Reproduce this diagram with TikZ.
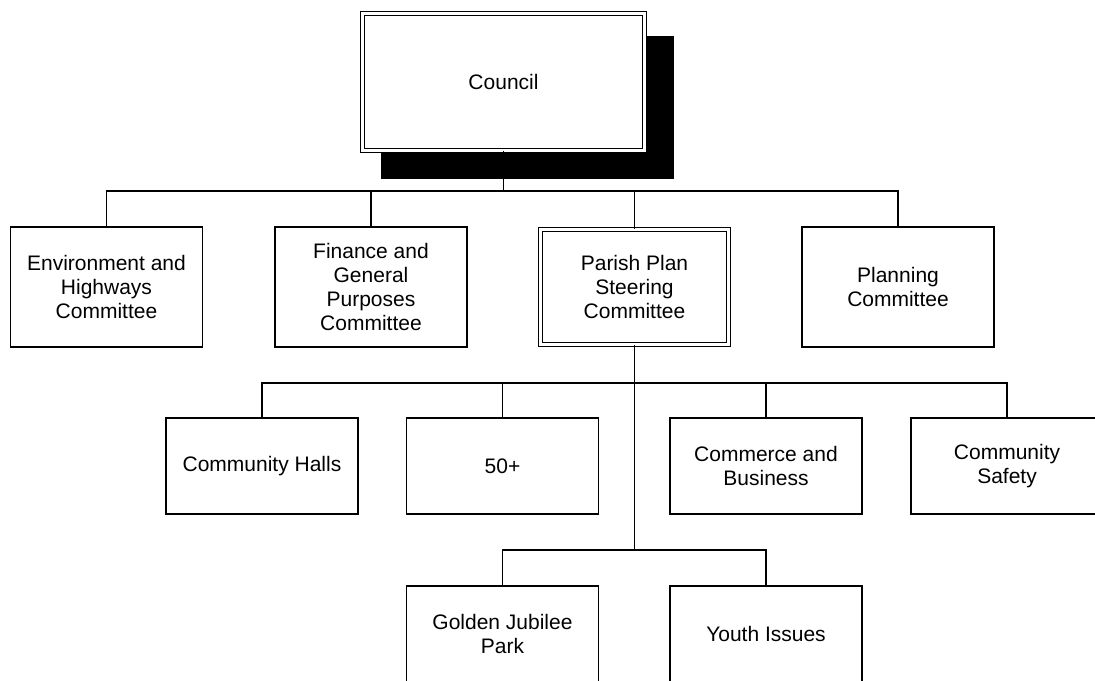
\documentclass[tikz,border=0pt]{standalone}
\usepackage{fontspec}
\setmainfont{Liberation Sans}
\usetikzlibrary{shadows,calc}

\begin{document}
\begin{tikzpicture}[x=0.5pt, y=-0.5pt, line width=0.65pt,
        font=\fontsize{10.5}{12}\selectfont,
        box/.style={draw, fill=white, align=center, inner sep=2pt,
            minimum width=96pt, minimum height=60pt},
        smallbox/.style={box, minimum height=48pt},
        dbox/.style={box, double, line width=0.55pt, double distance=1.3pt}]

    \useasboundingbox (0,0) rectangle (1095,680);
    \clip (0,0) rectangle (1095,680);

    % Council box with its black shadow
    \node[dbox, minimum width=141pt, minimum height=68.5pt,
        drop shadow={shadow xshift=11.5pt, shadow yshift=-12.25pt,
            shadow scale=1.04, fill=black, opacity=1}] (council) at (503.5,82) {Council};

    % Committees
    \node[box] (env) at (106.5,287) {Environment and\\Highways\\Committee};
    \node[box] (fin) at (371,287) {Finance and\\General\\Purposes\\Committee};
    \node[dbox, minimum width=94pt, minimum height=57.5pt] (parish) at (634.5,287) {Parish Plan\\Steering\\Committee};
    \node[box] (plan) at (898,287) {Planning\\Committee};

    % Working groups under the steering committee
    \node[smallbox] (halls) at (262,466) {Community Halls};
    \node[smallbox] (fifty) at (502.5,466) {50+};
    \node[smallbox] (commerce) at (766,466) {Commerce and\\Business};
    \node[smallbox] (safety) at (1007,466) {Community\\Safety};
    \node[smallbox] (jubilee) at (502.5,634) {Golden Jubilee\\Park};
    \node[smallbox] (youth) at (766,634) {Youth Issues};

    % Heights of the horizontal bars
    \coordinate (bar1) at (0,191);
    \coordinate (bar2) at (0,383);
    \coordinate (bar3) at (0,550);

    \foreach \c in {env,fin,parish,plan}
        \draw (council.south) -- (council.south |- bar1) -| (\c.north);
    \foreach \c in {halls,fifty,commerce,safety}
        \draw (parish.south) -- (parish.south |- bar2) -| (\c.north);
    \foreach \c in {jubilee,youth}
        \draw (parish.south) -- (parish.south |- bar3) -| (\c.north);

\end{tikzpicture}
\end{document}
